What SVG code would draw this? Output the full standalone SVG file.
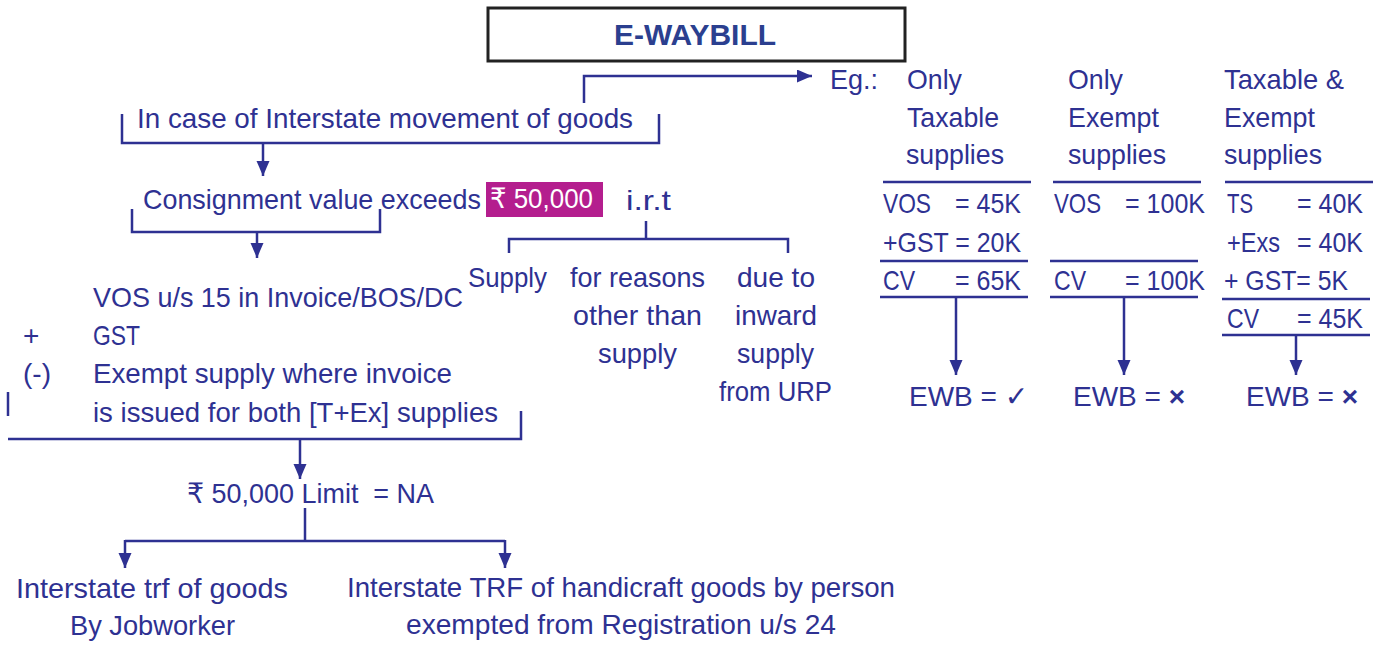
<svg xmlns="http://www.w3.org/2000/svg" width="1383" height="645" viewBox="0 0 1383 645">
<style>
  text { font-family: "Liberation Sans", Arial, "DejaVu Sans", "Noto Sans", sans-serif; font-size: 28px; fill: #2E3192; }
  .title { font-weight: bold; font-size: 30px; fill: #2B3F8F; }
  .w { fill: #ffffff; }
  .ln { stroke: #2E3192; stroke-width: 2.5; fill: none; }
  .sym { font-family: "DejaVu Sans", "Noto Sans", sans-serif; }
</style>
<defs>
  <marker id="ah" markerUnits="userSpaceOnUse" markerWidth="16" markerHeight="14" refX="15" refY="6.5" orient="auto">
    <path d="M0,0 L15,6.5 L0,13 Z" fill="#2E3192"/>
  </marker>
</defs>
<rect width="1383" height="645" fill="#ffffff"/>

<g id="title">
  <rect x="488" y="8" width="417" height="53" fill="#ffffff" stroke="#222222" stroke-width="3"/>
  <text class="title" x="614" y="45" textLength="162" lengthAdjust="spacingAndGlyphs">E-WAYBILL</text>
</g>

<g id="interstate">
  <text x="137" y="128" textLength="496" lengthAdjust="spacingAndGlyphs">In case of Interstate movement of goods</text>
</g>

<g id="consignment">
  <text x="143" y="209" textLength="338" lengthAdjust="spacingAndGlyphs">Consignment value exceeds</text>
  <rect x="486" y="182" width="117" height="35" fill="#B41E8E"/>
  <text class="w" x="490" y="208" textLength="103" lengthAdjust="spacingAndGlyphs">₹ 50,000</text>
  <text x="626" y="210" textLength="45" lengthAdjust="spacingAndGlyphs">i.r.t</text>
</g>

<g id="irt-supply">
  <text x="468" y="287" textLength="79" lengthAdjust="spacingAndGlyphs">Supply</text>
</g>
<g id="irt-other">
  <text x="570" y="287" textLength="135" lengthAdjust="spacingAndGlyphs">for reasons</text>
  <text x="573" y="325" textLength="129" lengthAdjust="spacingAndGlyphs">other than</text>
  <text x="598" y="363" textLength="79" lengthAdjust="spacingAndGlyphs">supply</text>
</g>
<g id="irt-urp">
  <text x="737" y="287" textLength="78" lengthAdjust="spacingAndGlyphs">due to</text>
  <text x="735" y="325" textLength="82" lengthAdjust="spacingAndGlyphs">inward</text>
  <text x="737" y="363" textLength="77" lengthAdjust="spacingAndGlyphs">supply</text>
  <text x="719" y="401" textLength="113" lengthAdjust="spacingAndGlyphs">from URP</text>
</g>

<g id="cv-formula">
  <text x="93" y="307" textLength="370" lengthAdjust="spacingAndGlyphs">VOS u/s 15 in Invoice/BOS/DC</text>
  <text x="23" y="345">+</text>
  <text x="93" y="345" textLength="47" lengthAdjust="spacingAndGlyphs">GST</text>
  <text x="23" y="383" textLength="28" lengthAdjust="spacingAndGlyphs">(-)</text>
  <text x="93" y="383" textLength="359" lengthAdjust="spacingAndGlyphs">Exempt supply where invoice</text>
  <text x="93" y="422" textLength="405" lengthAdjust="spacingAndGlyphs">is issued for both [T+Ex] supplies</text>
</g>

<g id="limit">
  <text x="187" y="503" textLength="247" lengthAdjust="spacingAndGlyphs">₹ 50,000 Limit &#160;= NA</text>
</g>
<g id="jobworker">
  <text x="16" y="598" textLength="272" lengthAdjust="spacingAndGlyphs">Interstate trf of goods</text>
  <text x="70" y="635" textLength="165" lengthAdjust="spacingAndGlyphs">By Jobworker</text>
</g>
<g id="handicraft">
  <text x="347" y="597" textLength="548" lengthAdjust="spacingAndGlyphs">Interstate TRF of handicraft goods by person</text>
  <text x="406" y="634" textLength="430" lengthAdjust="spacingAndGlyphs">exempted from Registration u/s 24</text>
</g>

<g id="eg">
  <text x="830" y="89" textLength="48" lengthAdjust="spacingAndGlyphs">Eg.:</text>
</g>

<g id="col-taxable">
  <text x="907" y="89" textLength="55" lengthAdjust="spacingAndGlyphs">Only</text>
  <text x="907" y="127" textLength="92" lengthAdjust="spacingAndGlyphs">Taxable</text>
  <text x="906" y="164" textLength="98" lengthAdjust="spacingAndGlyphs">supplies</text>
  <line class="ln" x1="883" y1="182" x2="1031" y2="182"/>
  <text x="883" y="213" textLength="48" lengthAdjust="spacingAndGlyphs">VOS</text>
  <text x="955" y="213" textLength="66" lengthAdjust="spacingAndGlyphs">= 45K</text>
  <text x="883" y="252" textLength="138" lengthAdjust="spacingAndGlyphs">+GST = 20K</text>
  <line class="ln" x1="880" y1="261" x2="1028" y2="261"/>
  <text x="883" y="290" textLength="32" lengthAdjust="spacingAndGlyphs">CV</text>
  <text x="955" y="290" textLength="66" lengthAdjust="spacingAndGlyphs">= 65K</text>
  <line class="ln" x1="880" y1="297" x2="1028" y2="297"/>
  <text x="909" y="406">EWB = <tspan class="sym">✓</tspan></text>
</g>

<g id="col-exempt">
  <text x="1068" y="89" textLength="55" lengthAdjust="spacingAndGlyphs">Only</text>
  <text x="1068" y="127" textLength="91" lengthAdjust="spacingAndGlyphs">Exempt</text>
  <text x="1068" y="164" textLength="98" lengthAdjust="spacingAndGlyphs">supplies</text>
  <line class="ln" x1="1053" y1="182" x2="1201" y2="182"/>
  <text x="1054" y="213" textLength="47" lengthAdjust="spacingAndGlyphs">VOS</text>
  <text x="1125" y="213" textLength="80" lengthAdjust="spacingAndGlyphs">= 100K</text>
  <line class="ln" x1="1050" y1="261" x2="1198" y2="261"/>
  <text x="1054" y="290" textLength="32" lengthAdjust="spacingAndGlyphs">CV</text>
  <text x="1125" y="290" textLength="80" lengthAdjust="spacingAndGlyphs">= 100K</text>
  <line class="ln" x1="1050" y1="297" x2="1198" y2="297"/>
  <text x="1073" y="406">EWB = <tspan font-weight="bold">×</tspan></text>
</g>

<g id="col-mixed">
  <text x="1224" y="89" textLength="120" lengthAdjust="spacingAndGlyphs">Taxable &amp;</text>
  <text x="1224" y="127" textLength="91" lengthAdjust="spacingAndGlyphs">Exempt</text>
  <text x="1224" y="164" textLength="98" lengthAdjust="spacingAndGlyphs">supplies</text>
  <line class="ln" x1="1225" y1="182" x2="1373" y2="182"/>
  <text x="1227" y="213" textLength="26" lengthAdjust="spacingAndGlyphs">TS</text>
  <text x="1297" y="213" textLength="66" lengthAdjust="spacingAndGlyphs">= 40K</text>
  <text x="1227" y="252" textLength="53" lengthAdjust="spacingAndGlyphs">+Exs</text>
  <text x="1297" y="252" textLength="66" lengthAdjust="spacingAndGlyphs">= 40K</text>
  <text x="1224" y="290" textLength="124" lengthAdjust="spacingAndGlyphs">+ GST= 5K</text>
  <line class="ln" x1="1222" y1="299" x2="1370" y2="299"/>
  <text x="1227" y="328" textLength="32" lengthAdjust="spacingAndGlyphs">CV</text>
  <text x="1297" y="328" textLength="66" lengthAdjust="spacingAndGlyphs">= 45K</text>
  <line class="ln" x1="1222" y1="335" x2="1370" y2="335"/>
  <text x="1246" y="406">EWB = <tspan font-weight="bold">×</tspan></text>
</g>

<g id="connectors">
  <path class="ln" d="M584,103 V76 H812" marker-end="url(#ah)"/>
  <path class="ln" d="M122,114 V143 H659 V114"/>
  <path class="ln" d="M263,143 V176" marker-end="url(#ah)"/>
  <path class="ln" d="M132,209 V232 H380 V209"/>
  <path class="ln" d="M257,232 V258" marker-end="url(#ah)"/>
  <path class="ln" d="M646,221 V239"/>
  <path class="ln" d="M509,253 V239 H788 V253"/>
  <path class="ln" d="M8,392 V416"/>
  <path class="ln" d="M8,439 H521 V411"/>
  <path class="ln" d="M300,439 V479" marker-end="url(#ah)"/>
  <path class="ln" d="M305,508 V541"/>
  <path class="ln" d="M125,541 H505"/>
  <path class="ln" d="M125,540 V568" marker-end="url(#ah)"/>
  <path class="ln" d="M505,540 V568" marker-end="url(#ah)"/>
  <path class="ln" d="M956,297 V375" marker-end="url(#ah)"/>
  <path class="ln" d="M1124,297 V375" marker-end="url(#ah)"/>
  <path class="ln" d="M1296,335 V375" marker-end="url(#ah)"/>
</g>
</svg>
